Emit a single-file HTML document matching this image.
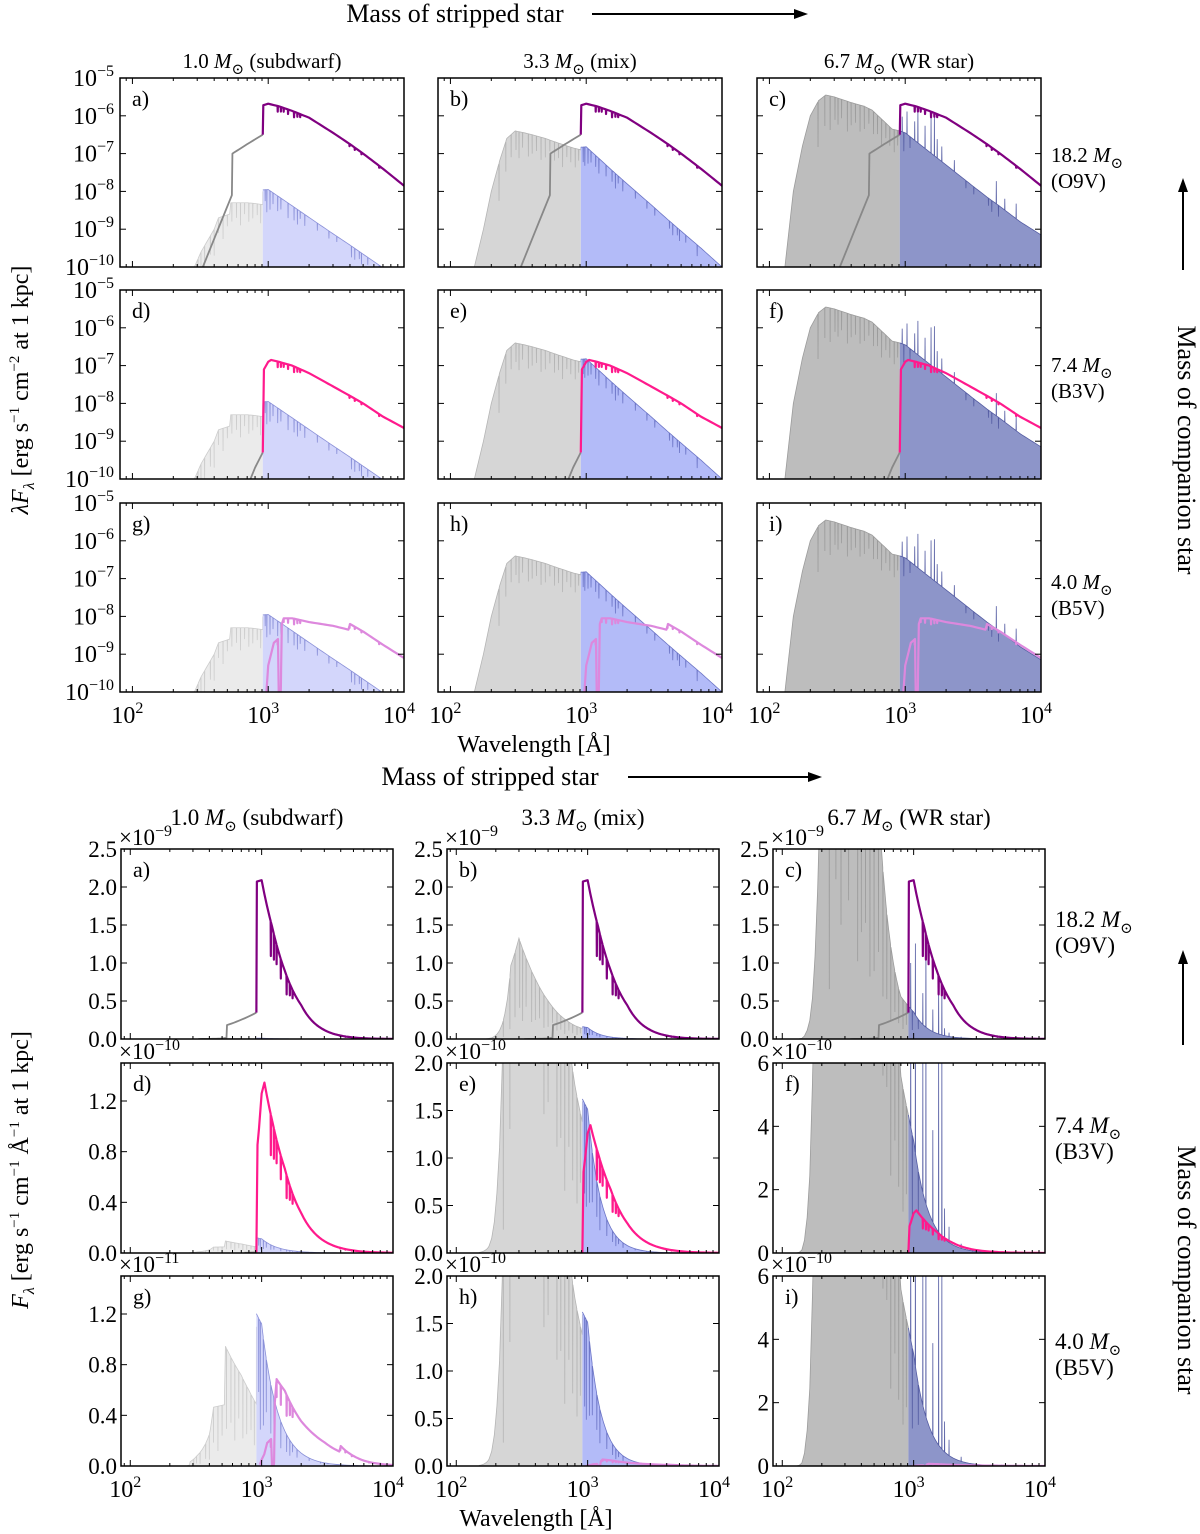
<!DOCTYPE html>
<html><head><meta charset="utf-8"><style>
html,body{margin:0;padding:0;background:#fff}
svg{display:block;font-family:"Liberation Serif","DejaVu Serif",serif}
</style></head><body>
<svg id="fig" width="1200" height="1534" viewBox="0 0 1200 1534" xmlns="http://www.w3.org/2000/svg">
<defs id="defs"></defs>
<g id="static" fill="#000">
  <text x="455" y="22" font-size="26" text-anchor="middle">Mass of stripped star</text>
  <line x1="592" y1="14" x2="798" y2="14" stroke="#000" stroke-width="2"/>
  <polygon points="808,14 794,9 794,19"/>
  <text x="490" y="785" font-size="26" text-anchor="middle">Mass of stripped star</text>
  <line x1="628" y1="777" x2="812" y2="777" stroke="#000" stroke-width="2"/>
  <polygon points="822,777 808,772 808,782"/>
  <text transform="translate(1178,450) rotate(90)" font-size="26" text-anchor="middle">Mass of companion star</text>
  <line x1="1183" y1="270" x2="1183" y2="188" stroke="#000" stroke-width="2"/>
  <polygon points="1183,178 1178,192 1188,192"/>
  <text transform="translate(1178,1270) rotate(90)" font-size="26" text-anchor="middle">Mass of companion star</text>
  <line x1="1183" y1="1045" x2="1183" y2="960" stroke="#000" stroke-width="2"/>
  <polygon points="1183,950 1178,964 1188,964"/>
  <text transform="translate(28,390) rotate(-90)" font-size="24" text-anchor="middle"><tspan font-style="italic">λF</tspan><tspan font-style="italic" font-size="16" dy="6">λ</tspan><tspan dy="-6"> [erg s</tspan><tspan font-size="15" dy="-9">−1</tspan><tspan dy="9"> cm</tspan><tspan font-size="15" dy="-9">−2</tspan><tspan dy="9"> at 1 kpc]</tspan></text>
  <text transform="translate(28,1170) rotate(-90)" font-size="24" text-anchor="middle"><tspan font-style="italic">F</tspan><tspan font-style="italic" font-size="16" dy="6">λ</tspan><tspan dy="-6"> [erg s</tspan><tspan font-size="15" dy="-9">−1</tspan><tspan dy="9"> cm</tspan><tspan font-size="15" dy="-9">−1</tspan><tspan dy="9"> Å</tspan><tspan font-size="15" dy="-9">−1</tspan><tspan dy="9"> at 1 kpc]</tspan></text>
  <text x="534" y="752" font-size="24" text-anchor="middle">Wavelength [Å]</text>
  <text x="536" y="1526" font-size="24" text-anchor="middle">Wavelength [Å]</text>
</g>
<g id="panels"></g>
</svg>
<script>
// ---- data (log10 of lambda*F_lambda, erg s^-1 cm^-2 at 1 kpc) ----
const s1Wl = [260,286,320,400,430,520,530,700,800,911,912,1000,1500,2000,3000,4000,5000,7000,10000];
const s1Val = [-14,-10,-9.6,-9.0,-8.7,-8.6,-8.3,-8.3,-8.32,-8.35,-7.96,-7.95,-8.38,-8.69,-9.12,-9.42,-9.66,-10.02,-10.4];
const s2Wl = [140,150,175,200,230,260,300,350,400,500,600,700,800,911,912,1000,1200,1500,2000,3000,4000,5000,7000,10000];
const s2Val = [-14,-10,-9,-8,-7.2,-6.6,-6.4,-6.45,-6.5,-6.6,-6.7,-6.78,-6.85,-6.9,-6.83,-6.82,-7.08,-7.4,-7.8,-8.35,-8.75,-9.05,-9.5,-10.0];
const s3Wl = [120,130,150,175,200,230,260,300,400,500,570,700,800,911,912,1000,1500,2000,3000,4000,5000,7000,10000];
const s3Val = [-14,-10,-8,-6.8,-6.0,-5.6,-5.45,-5.5,-5.65,-5.75,-5.85,-6.15,-6.35,-6.4,-6.4,-6.45,-6.95,-7.3,-7.8,-8.15,-8.4,-8.8,-9.15];
const c1Wl = [300,330,450,540,545,700,911,912,920,1000,1200,1500,2000,3000,4000,5000,7000,10000];
const c1Val = [-14,-10,-8.8,-8.1,-7.0,-6.75,-6.5,-6.5,-5.72,-5.68,-5.75,-5.87,-6.05,-6.45,-6.75,-7.0,-7.4,-7.85];
const c2Wl = [700,740,800,911,912,930,1000,1050,1200,1500,2000,3000,4000,5000,7000,10000];
const c2Val = [-14,-10,-9.7,-9.3,-9.3,-7.1,-6.9,-6.85,-6.9,-7.0,-7.2,-7.55,-7.8,-8.0,-8.35,-8.65];
const c3Wl = [950,970,1000,1100,1180,1200,1230,1260,1300,1500,2000,3000,3900,4000,5000,7000,10000];
const c3Val = [-14,-10,-9.3,-8.7,-8.6,-10.5,-10.5,-8.2,-8.05,-8.05,-8.15,-8.25,-8.35,-8.2,-8.4,-8.75,-9.1];
// spectral lines (positive = absorption depth in dex, negative = emission)
const lineWl = [228,256,280,304,320,340,375,400,430,465,500,540,584,625,670,720,770,830,880,950,977,1031,1085,1175,1240,1400,1550,1640,1720,1860,2300,2800,3200,4100,4340,4686,4861,5412,6563];
const s1Depth = [0,0,0,1.0,0.6,0.8,0.5,0.7,0.4,0.6,0.3,0.5,0.4,0.6,0.3,0.5,0.4,0.3,0.5,0.3,0.6,0.5,0.3,0.4,0.3,0.4,0.35,0.4,0.2,0.3,0.2,0.2,0.15,0.3,0.3,0.2,0.3,0.2,0.3];
const s2Depth = [1.0,0.8,0.6,0.5,0.7,0.4,0.6,0.5,0.4,0.6,0.5,0.3,0.5,0.4,0.6,0.3,0.4,0.5,0.3,0.4,0.5,0.4,0.3,0.3,0.4,0.3,0.3,0.4,0.2,0.3,0.2,0.2,0.2,0.2,0.3,0.2,0.3,0.2,0.3];
const s3Depth = [1.2,0.8,0.9,0.6,0.7,0.5,0.8,0.6,0.5,0.7,0.6,0.4,0.6,0.5,0.7,0.4,0.5,0.6,0.4,-0.4,0.5,-0.6,0.3,-0.5,-0.9,-0.6,-1.0,-1.1,-0.5,-0.4,-0.3,0.2,0.2,0.2,0.3,-0.6,0.3,-0.3,-0.4];
const compLineWl = [1175,1240,1300,1400,1550,1640,1720,3970,4340,4861,6563];
const compDepth = [0.15,0.12,0.1,0.12,0.15,0.1,0.08,0.06,0.06,0.05,0.05];
const strippedLabels = ["1.0", "3.3", "6.7"];
const strippedTypes = ["(subdwarf)", "(mix)", "(WR star)"];
const compLabels = ["18.2", "7.4", "4.0"];
const compTypes = ["(O9V)", "(B3V)", "(B5V)"];
const panelLetters = ["a)","b)","c)","d)","e)","f)","g)","h)","i)"];
const topYTicks = [-5,-6,-7,-8,-9,-10];
const xDecades = [2,3,4];
const botYMax = [[2.5e-9,2.5e-9,2.5e-9],[1.5e-10,2.0e-10,6e-10],[1.5e-11,2.0e-10,6e-10]];
const botExp = [[-9,-9,-9],[-10,-10,-10],[-11,-10,-10]];
const botTickVals = [[[0,0.5,1,1.5,2,2.5],[0,0.5,1,1.5,2,2.5],[0,0.5,1,1.5,2,2.5]],
  [[0,0.4,0.8,1.2],[0,0.5,1,1.5,2],[0,2,4,6]],
  [[0,0.4,0.8,1.2],[0,0.5,1,1.5,2],[0,2,4,6]]];
const botTickLabels = [[["0.0","0.5","1.0","1.5","2.0","2.5"],["0.0","0.5","1.0","1.5","2.0","2.5"],["0.0","0.5","1.0","1.5","2.0","2.5"]],
  [["0.0","0.4","0.8","1.2"],["0.0","0.5","1.0","1.5","2.0"],["0","2","4","6"]],
  [["0.0","0.4","0.8","1.2"],["0.0","0.5","1.0","1.5","2.0"],["0","2","4","6"]]];

// ---- styles ----
const strip = [[s1Wl,s1Val,s1Depth],[s2Wl,s2Val,s2Depth],[s3Wl,s3Val,s3Depth]];
const comp = [[c1Wl,c1Val],[c2Wl,c2Val],[c3Wl,c3Val]];
const grayFill = ["#ebebeb","#d6d6d6","#bdbdbd"];
const grayEdge = ["#cdcdcd","#b5b5b5","#9c9c9c"];
const blueFill = ["#d3d6fb","#b3bbf8","#8d95c9"];
const blueEdge = ["#8a90d8","#6c75c6","#555da3"];
const compColor = ["#800080","#ff1a8c","#dd88dd"];
const NS = "http://www.w3.org/2000/svg";
const root = document.getElementById("panels");
const defs = document.getElementById("defs");
function mk(tag, parent){ const e=document.createElementNS(NS,tag); parent.appendChild(e); return e; }
function setA(e, o){ for(const k in o) e.setAttribute(k,o[k]); }

function interp(wl,val,lam){
  if(lam<wl[0]) return -20;
  if(lam>=wl[wl.length-1]) return val[val.length-1];
  for(let i=0;i<wl.length-1;i++){
    if(lam>=wl[i] && lam<=wl[i+1]){
      if(wl[i+1]===wl[i]) return val[i+1];
      const t=(Math.log10(lam)-Math.log10(wl[i]))/(Math.log10(wl[i+1])-Math.log10(wl[i]));
      return val[i]+t*(val[i+1]-val[i]);
    }
  }
  return -20;
}
function sample(wl,val,lw,ld,lo,hi){
  const pts=[];
  for(let i=0;i<wl.length;i++){ if(wl[i]>=lo && wl[i]<=hi) pts.push([wl[i],val[i],i]); }
  for(let l=Math.log10(lo); l<=Math.log10(hi); l+=0.02){ const lam=Math.pow(10,l); pts.push([lam,interp(wl,val,lam),-1]); }
  pts.push([lo,interp(wl,val,lo),-1]); pts.push([hi,interp(wl,val,hi),-1]);
  for(let j=0;j<lw.length;j++){
    const lam=lw[j]; if(lam<lo||lam>hi||!ld[j]) continue;
    const base=interp(wl,val,lam); if(base<-11) continue;
    pts.push([lam*0.997,interp(wl,val,lam*0.997),-1]);
    pts.push([lam,base-ld[j],-1]);
    pts.push([lam*1.003,interp(wl,val,lam*1.003),-1]);
  }
  pts.sort((a,b)=>a[0]-b[0]||(a[2]-b[2]));
  return pts;
}
function xScale(x0,w,lmin,lam){ return x0 + (Math.log10(lam)-Math.log10(lmin))/(4-Math.log10(lmin))*w; }

function drawPanel(kind, r, c, x0, y0, w, h, lmin){
  const g = mk("g", root);
  
  
  const cid = "clip-"+kind+r+c;
  const cp = mk("clipPath", defs); cp.setAttribute("id",cid);
  const cr = mk("rect", cp); setA(cr,{x:x0,y:y0,width:w,height:h});
  const inner = mk("g", g); inner.setAttribute("clip-path","url(#"+cid+")");
  
  
  const X = lam => xScale(x0,w,lmin,lam);
  const ymax = kind==="bot" ? botYMax[r][c] : 0;
  const Y = (lam,v) => {
    if(kind==="top"){ const vv=Math.max(v,-10.6); return y0 + (-5-vv)/5*h; }
    const f = Math.pow(10,v)/lam; return y0+h - Math.min(f/ymax,1.3)*h;
  };
  const yb = y0+h+2;
  const [sw,sv,sd] = strip[c];
  const parts = [[lmin,911.9,grayFill[c],grayEdge[c],'stripped-ionizing-fill'],[912,10000,blueFill[c],blueEdge[c],'stripped-nonionizing-fill']];
  for(const [lo,hi,fc,ec,nm] of parts){
    const pts = sample(sw,sv,lineWl,sd,lo,hi);
    let d = "M"+X(lo).toFixed(2)+","+yb;
    let e = "";
    pts.forEach((p,i)=>{ const s=X(p[0]).toFixed(2)+","+Y(p[0],p[1]).toFixed(2); d+="L"+s; e+=(i?"L":"M")+s; });
    d += "L"+X(hi).toFixed(2)+","+yb+"Z";
    const pf = mk("path", inner); setA(pf,{d:d,fill:fc,stroke:"none"});
    
    
    const pe = mk("path", inner); setA(pe,{d:e,fill:"none",stroke:ec,"stroke-width":0.8});
    
    
  }
  const [cw,cv] = comp[r];
  const cparts = [[lmin,912,"#888888",1.8,'companion-ionizing-line'],[912,10000,compColor[r],2.2,'companion-spectrum-line']];
  for(const [lo,hi,col,sw2,nm] of cparts){
    const pts = sample(cw,cv,compLineWl,compDepth,lo,hi).filter(p=>p[1]>-10.8);
    if(pts.length<2) continue;
    let d="";
    pts.forEach((p,i)=>{ d+=(i?"L":"M")+X(p[0]).toFixed(2)+","+Y(p[0],p[1]).toFixed(2); });
    const pl = mk("path", inner); setA(pl,{d:d,fill:"none",stroke:col,"stroke-width":sw2,"stroke-linejoin":"round"});
    
    
  }
  const fr = mk("rect", g); setA(fr,{x:x0,y:y0,width:w,height:h,fill:"none",stroke:"#000","stroke-width":1.5});
  
  
  const tk = mk("g", g); setA(tk,{stroke:"#000","stroke-width":1});
  
  
  for(let dec=1; dec<=3; dec++){
    for(let m=1;m<=9;m++){
      const lam=m*Math.pow(10,dec); if(lam<lmin||lam>10000) continue;
      const x=X(lam), L=(m===1)?6:3;
      const t1=mk("line",tk); setA(t1,{x1:x,y1:y0+h,x2:x,y2:y0+h-L});
      const t2=mk("line",tk); setA(t2,{x1:x,y1:y0,x2:x,y2:y0+L});
    }
  }
  const ty = y0+h+31;
  if(r===2){
    xDecades.forEach(dk=>{
      const t=mk("text",g); setA(t,{x:X(Math.pow(10,dk))-5,y:ty,"font-size":24,"text-anchor":"middle"});
      
      
      t.textContent="10";
      const s=mk("tspan",t); setA(s,{dy:-10,"font-size":16}); s.textContent=String(dk);
    });
  }
  if(kind==="top"){
    topYTicks.forEach(v=>{
      const y=Y(1000,v);
      const t1=mk("line",tk); setA(t1,{x1:x0,y1:y,x2:x0+6,y2:y});
      const t2=mk("line",tk); setA(t2,{x1:x0+w,y1:y,x2:x0+w-6,y2:y});
      if(c===0){
        const t=mk("text",g); setA(t,{x:x0-6,y:y+8,"font-size":24,"text-anchor":"end"});
        
        
        t.textContent="10";
        const s=mk("tspan",t); setA(s,{dy:-10,"font-size":16}); s.textContent="−"+(-v);
      }
    });
  } else {
    const vals=botTickVals[r][c], labs=botTickLabels[r][c], scale=Math.pow(10,botExp[r][c]);
    vals.forEach((v,i)=>{
      const y=y0+h - v*scale/ymax*h;
      const t1=mk("line",tk); setA(t1,{x1:x0,y1:y,x2:x0+6,y2:y});
      const t2=mk("line",tk); setA(t2,{x1:x0+w,y1:y,x2:x0+w-6,y2:y});
      const t=mk("text",g); setA(t,{x:x0-4,y:y+8,"font-size":23,"text-anchor":"end"});
      
      
      t.textContent=labs[i];
    });
    const ex=mk("text",g); setA(ex,{x:x0-2,y:y0-4,"font-size":23});
    
    
    ex.textContent="×10";
    const s=mk("tspan",ex); setA(s,{dy:-9,"font-size":16}); s.textContent="−"+(-botExp[r][c]);
  }
  const pl=mk("text",g); setA(pl,{x:x0+12,y:y0+28,"font-size":22});
  
  
  pl.textContent=panelLetters[r*3+c];
}

function mSun(t, mass, rest){
  t.textContent=mass+" ";
  const a=mk("tspan",t); a.setAttribute("font-style","italic"); a.textContent="M";
  const b=mk("tspan",t); setA(b,{dy:6,"font-size":15}); b.textContent="⊙";
  const d=mk("tspan",t); d.setAttribute("dy",-6); d.textContent=rest?(" "+rest):"";
}
function drawFigure(kind, cols, rows, w, h, lmin, titleY, compY){
  for(let r=0;r<3;r++) for(let c=0;c<3;c++) drawPanel(kind,r,c,cols[c],rows[r],w,h,lmin);
  for(let c=0;c<3;c++){
    const t=mk("text",root); setA(t,{x:cols[c]+w/2,y:titleY,"font-size":kind==="top"?21:23,"text-anchor":"middle"});
    
    
    mSun(t,strippedLabels[c],strippedTypes[c]);
  }
  for(let r=0;r<3;r++){
    const t=mk("text",root); setA(t,{x:cols[2]+w+10,y:compY[r],"font-size":kind==="top"?21:23});
    
    
    mSun(t,compLabels[r],"");
    const t2=mk("text",root); setA(t2,{x:cols[2]+w+10,y:compY[r]+26,"font-size":kind==="top"?21:23});
    
    
    t2.textContent=compTypes[r];
  }
}
drawFigure("top",[120,438,757],[78,290,503],284,189,81,68,[162,372,589]);
drawFigure("bot",[121,447,773],[849,1063,1276],272,190,85,825,[927,1133,1349]);
</script>
</body></html>
